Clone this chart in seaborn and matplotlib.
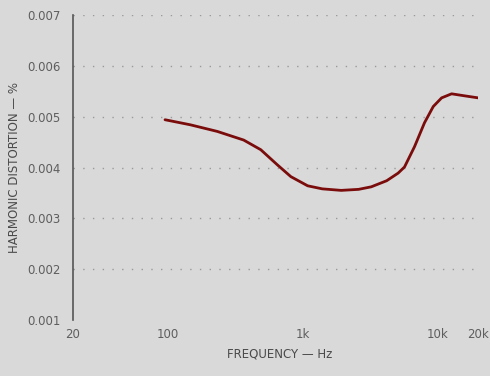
import numpy as np
import pandas as pd
import matplotlib
matplotlib.use("Agg")
import matplotlib.pyplot as plt
import seaborn as sns

freq_hz = [96, 148, 234, 367, 491, 653, 820, 1092, 1400, 1932, 2600, 3228,
           4200, 5106, 5690, 6750, 8000, 9290, 10710, 12700, 15880, 20000]
distortion = [0.00494, 0.00484, 0.00471, 0.00454, 0.00435, 0.00405, 0.00382,
              0.00364, 0.00358, 0.00355, 0.00357, 0.00362, 0.00374, 0.00389,
              0.00401, 0.00441, 0.00488, 0.00520, 0.00537, 0.00545, 0.00541,
              0.00537]

x_ticks = [20, 100, 1000, 10000, 20000]
x_ticklabels = ["20", "100", "1k", "10k", "20k"]
y_ticks = [0.001, 0.002, 0.003, 0.004, 0.005, 0.006, 0.007]
y_ticklabels = ["0.001", "0.002", "0.003", "0.004", "0.005", "0.006", "0.007"]

df = pd.DataFrame({"freq": freq_hz, "thd": distortion})

sns.set_style("white")
plt.rcParams['font.family'] = ['DejaVu Sans']

bg = "#d9d9d9"
fig = plt.figure(figsize=(4.9, 3.76), dpi=100, facecolor=bg)
ax = fig.add_axes([0.149, 0.149, 0.827, 0.811])
ax.set_facecolor(bg)

sns.lineplot(data=df, x="freq", y="thd", ax=ax, color="#7a0c0c", linewidth=2.0)

ax.set_xscale("log")
ax.set_xlim(20, 20000)
ax.set_ylim(0.001, 0.007)
ax.set_xticks(x_ticks)
ax.set_xticklabels(x_ticklabels)
ax.minorticks_off()
ax.set_yticks(y_ticks)
ax.set_yticklabels(y_ticklabels)
ax.tick_params(axis="y", length=0, labelsize=8.5, colors="#5e5e5e", pad=9)
ax.tick_params(axis="x", length=0, labelsize=8.5, colors="#5e5e5e", pad=6)

# faint dotted grid as in the scan
for y in y_ticks[1:]:
    ax.axhline(y, color="#9a9a9a", linestyle=(0, (1, 6)), linewidth=1.0, zorder=0)

for side in ["top", "right", "bottom"]:
    ax.spines[side].set_visible(False)
ax.spines["left"].set_color("#555555")
ax.spines["left"].set_linewidth(1.2)

ax.set_xlabel("FREQUENCY — Hz", fontsize=8.5, color="#4a4a4a")
ax.xaxis.set_label_coords(0.51, -0.09)
ax.set_ylabel("HARMONIC DISTORTION — %", fontsize=8.5, color="#4a4a4a")
ax.yaxis.set_label_coords(-0.128, 0.5)

fig.savefig("out.png", dpi=100, facecolor=bg)
